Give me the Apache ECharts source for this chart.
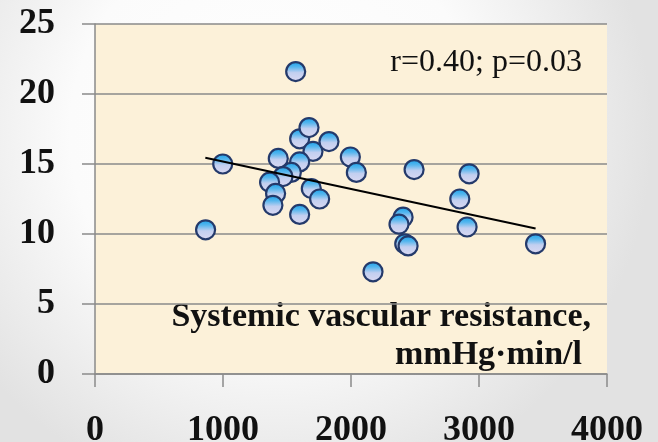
<!DOCTYPE html>
<html>
<head>
<meta charset="utf-8">
<script src="https://cdn.jsdelivr.net/npm/echarts@6/dist/echarts.min.js"></script>
<style>
html,body{margin:0;padding:0;overflow:hidden;}
#chart{width:658px;height:442px;}
</style>
</head>
<body>
<div id="chart"></div>
<script>
// Systemic vascular resistance (mmHg·min/l) vs. y value
const svrX = [864, 998, 1568, 1599, 1672, 1703, 1828, 1432, 1599, 1534, 1469, 1364, 1411, 1390, 1599, 1690, 1755, 1995, 2042, 2172, 2493, 2923, 2850, 2907, 2407, 2375, 2420, 2446, 3442];
const valY = [10.3, 15.0, 21.6, 16.8, 17.6, 15.9, 16.6, 15.4, 15.15, 14.4, 14.1, 13.7, 12.9, 12.05, 11.4, 13.25, 12.5, 15.5, 14.4, 7.3, 14.6, 14.3, 12.5, 10.5, 11.2, 10.7, 9.3, 9.15, 9.3];
// regression line end points
const trendX = [862, 3442];
const trendY = [15.44, 10.39];
const xTicks = [0, 1000, 2000, 3000, 4000];
const yTicks = [0, 5, 10, 15, 20, 25];
const statText = 'r=0.40; p=0.03';
const axisTitle1 = 'Systemic vascular resistance,';
const axisTitle2 = 'mmHg·min/l';

const points = svrX.map((x, i) => [x, valY[i]]);
const trend = trendX.map((x, i) => [x, trendY[i]]);

const chart = echarts.init(document.getElementById('chart'), null, {renderer: 'canvas'});
const labelFont = {fontFamily: 'Liberation Serif', fontWeight: 'bold', fontSize: 36, color: '#111'};

chart.setOption({
  animation: false,
  backgroundColor: {
    type: 'radial', x: 0.42, y: 0.3, r: 0.85,
    colorStops: [{offset: 0, color: '#ffffff'}, {offset: 0.55, color: '#fbfbfb'}, {offset: 1, color: '#e2e2e2'}]
  },
  grid: {left: 95, top: 24, right: 51, bottom: 68, show: true, backgroundColor: '#fcf1d9', borderWidth: 0,
    containLabel: false, outerBoundsMode: 'none'},
  xAxis: {
    type: 'value', min: xTicks[0], max: xTicks[xTicks.length - 1], interval: 1000,
    axisLine: {show: true, lineStyle: {color: '#8a8a8a', width: 1.5}},
    axisTick: {show: true, inside: false, length: 13, lineStyle: {color: '#8a8a8a', width: 1.5}},
    splitLine: {show: false},
    axisLabel: Object.assign({margin: 39, formatter: v => String(v)}, labelFont)
  },
  yAxis: {
    type: 'value', min: yTicks[0], max: yTicks[yTicks.length - 1], interval: 5,
    axisLine: {show: true, lineStyle: {color: '#8a8a8a', width: 1.5}},
    axisTick: {show: true, inside: false, length: 13, lineStyle: {color: '#8a8a8a', width: 1.5}},
    splitLine: {show: true, lineStyle: {color: '#8a8a8a', width: 1.5}},
    axisLabel: Object.assign({margin: 40, formatter: v => String(v)}, labelFont)
  },
  series: [
    {
      type: 'scatter', data: points, symbol: 'circle', symbolSize: 19,
      itemStyle: {
        color: {type: 'linear', x: 0, y: 0, x2: 0, y2: 1,
          colorStops: [{offset: 0, color: '#12a0ea'}, {offset: 0.28, color: '#55b6ee'}, {offset: 0.55, color: '#c2cff0'}, {offset: 1, color: '#dcd9f2'}]},
        borderColor: '#243a6b', borderWidth: 2.2, opacity: 1
      }
    },
    {
      type: 'line', data: trend, showSymbol: false, symbol: 'none',
      lineStyle: {color: '#000', width: 2}, z: 5
    }
  ],
  graphic: [
    {type: 'text', x: 582, y: 63, style: {text: statText, align: 'right', verticalAlign: 'middle',
      font: 'normal 32px "Liberation Serif"', fill: '#111'}},
    {type: 'text', x: 591, y: 317, style: {text: axisTitle1, align: 'right', verticalAlign: 'middle',
      font: 'bold 34px "Liberation Serif"', fill: '#111'}},
    {type: 'text', x: 582, y: 355, style: {text: axisTitle2, align: 'right', verticalAlign: 'middle',
      font: 'bold 34px "Liberation Serif"', fill: '#111'}}
  ]
});
</script>
</body>
</html>
